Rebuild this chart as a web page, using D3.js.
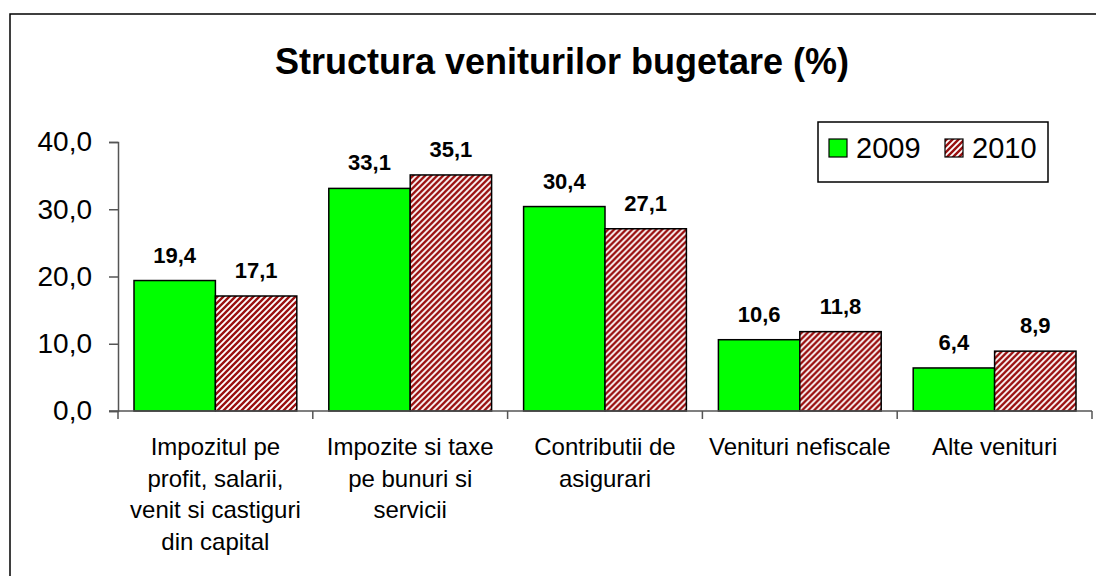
<!DOCTYPE html>
<html>
<head>
<meta charset="utf-8">
<script src="https://cdn.jsdelivr.net/npm/d3@7"></script>
<style>
    body { margin: 0; background: #fff; }
    text { font-family: Arial, "Liberation Sans", sans-serif; fill: #000; }
</style>
</head>
<body>
<div id="chart"></div>
<script>
// Data
const categories = [
    ["Impozitul pe", "profit, salarii,", "venit si castiguri", "din capital"],
    ["Impozite si taxe", "pe bunuri si", "servicii"],
    ["Contributii de", "asigurari"],
    ["Venituri nefiscale"],
    ["Alte venituri"]
];
const seriesNames = ["2009", "2010"];
const values2009 = [19.4, 33.1, 30.4, 10.6, 6.4];
const values2010 = [17.1, 35.1, 27.1, 11.8, 8.9];
const yTicks = [0, 10, 20, 30, 40];

const fmt = v => d3.format(".1f")(v).replace(".", ",");

const width = 1096, height = 576;
const svg = d3.select("#chart").append("svg")
    .attr("width", width)
    .attr("height", height);

// hatch pattern for 2010
const defs = svg.append("defs");
const pat = defs.append("pattern")
    .attr("id", "hatch")
    .attr("patternUnits", "userSpaceOnUse")
    .attr("width", 6)
    .attr("height", 6);
pat.append("rect").attr("width", 6).attr("height", 6).attr("fill", "#fff");
pat.append("path")
    .attr("d", "M-1,1 L1,-1 M0,6 L6,0 M5,7 L7,5")
    .attr("stroke", "#9a1010")
    .attr("stroke-width", 2.4);

// outer border
svg.append("rect")
    .attr("x", 10).attr("y", 14)
    .attr("width", 1100).attr("height", 600)
    .attr("fill", "none")
    .attr("stroke", "#000")
    .attr("stroke-width", 1.5);

// Title
svg.append("text")
    .attr("x", 562)
    .attr("y", 74)
    .attr("text-anchor", "middle")
    .style("font-size", "36px")
    .style("font-weight", "bold")
    .text("Structura veniturilor bugetare (%)");

// Scales
const x0 = d3.scaleBand()
    .domain(d3.range(categories.length))
    .range([118, 1092])
    .padding(0);
const bw = x0.bandwidth();
const x1 = d3.scaleBand()
    .domain(seriesNames)
    .range([16, bw - 16])
    .padding(0);
const y = d3.scaleLinear().domain([0, 40]).range([411, 142]);

const fills = { "2009": "#00ff00", "2010": "url(#hatch)" };

const rows = categories.map((c, i) => ({
    i,
    bars: [
        { s: "2009", v: values2009[i] },
        { s: "2010", v: values2010[i] }
    ]
}));

// Bars
const groups = svg.selectAll(".grp")
    .data(rows)
    .join("g")
    .attr("class", "grp")
    .attr("transform", d => `translate(${x0(d.i)},0)`);

groups.selectAll("rect")
    .data(d => d.bars)
    .join("rect")
    .attr("x", d => x1(d.s))
    .attr("y", d => y(d.v))
    .attr("width", x1.bandwidth())
    .attr("height", d => y(0) - y(d.v))
    .attr("fill", d => fills[d.s])
    .attr("stroke", "#000")
    .attr("stroke-width", 1.5);

groups.selectAll(".val")
    .data(d => d.bars)
    .join("text")
    .attr("class", "val")
    .attr("x", d => x1(d.s) + x1.bandwidth() / 2)
    .attr("y", d => y(d.v) - 18)
    .attr("text-anchor", "middle")
    .style("font-size", "22px")
    .style("font-weight", "bold")
    .text(d => fmt(d.v));

// Y axis
const yAxis = d3.axisLeft(y)
    .tickValues(yTicks)
    .tickSize(9)
    .tickPadding(17)
    .tickFormat(fmt);
const yg = svg.append("g")
    .attr("transform", "translate(118,0)")
    .call(yAxis);
yg.select(".domain").attr("stroke", "#555").attr("stroke-width", 1.5);
yg.selectAll(".tick line").attr("stroke", "#555").attr("stroke-width", 1.5);
yg.selectAll(".tick text")
    .style("font-size", "28px")
    .style("font-family", "Arial, 'Liberation Sans', sans-serif")
    .attr("fill", "#000");

// X axis line and ticks at category borders
svg.append("line")
    .attr("x1", 109).attr("x2", 1092)
    .attr("y1", y(0)).attr("y2", y(0))
    .attr("stroke", "#555")
    .attr("stroke-width", 1.5);
const borders = d3.range(categories.length + 1).map(i => i < categories.length ? x0(i) : x0(i - 1) + bw);
svg.selectAll(".xtick")
    .data(borders)
    .join("line")
    .attr("class", "xtick")
    .attr("x1", d => d).attr("x2", d => d)
    .attr("y1", y(0)).attr("y2", y(0) + 8)
    .attr("stroke", "#555")
    .attr("stroke-width", 1.5);

// Category labels
const cl = svg.selectAll(".cat")
    .data(categories)
    .join("text")
    .attr("class", "cat")
    .attr("text-anchor", "middle")
    .style("font-size", "24px");
cl.each(function (lines, i) {
    d3.select(this).selectAll("tspan")
        .data(lines)
        .join("tspan")
        .attr("x", x0(i) + bw / 2)
        .attr("y", (d, j) => 455 + j * 31.5)
        .text(d => d);
});

// Legend
const lg = svg.append("g");
lg.append("rect")
    .attr("x", 818).attr("y", 122)
    .attr("width", 230).attr("height", 60)
    .attr("fill", "#fff")
    .attr("stroke", "#000")
    .attr("stroke-width", 1.5);
const legendX = [829, 945];
seriesNames.forEach((s, i) => {
    lg.append("rect")
        .attr("x", legendX[i]).attr("y", 139)
        .attr("width", 18).attr("height", 18)
        .attr("fill", fills[s])
        .attr("stroke", "#000")
        .attr("stroke-width", 1.2);
    lg.append("text")
        .attr("x", legendX[i] + 27)
        .attr("y", 158)
        .style("font-size", "29px")
        .text(s);
});
</script>
</body>
</html>
